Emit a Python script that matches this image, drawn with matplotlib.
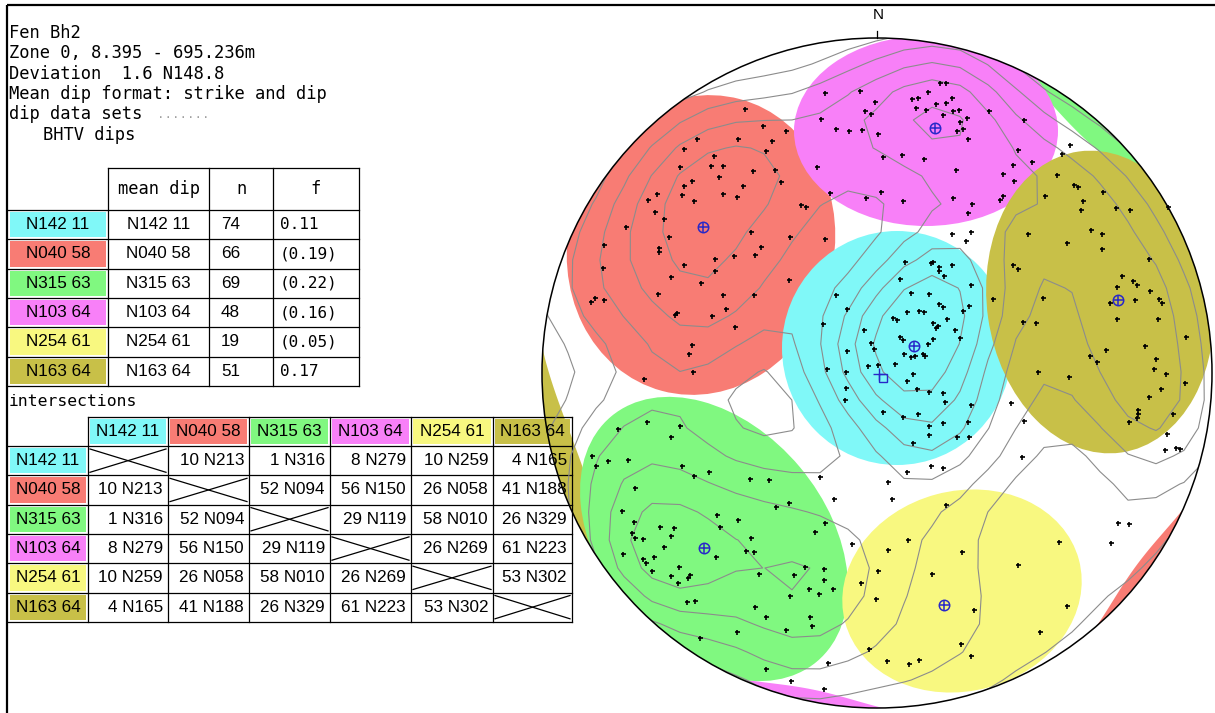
import numpy as np
import matplotlib
matplotlib.use("Agg")
import matplotlib.pyplot as plt
from matplotlib.patches import Circle, Ellipse, Polygon, Rectangle

# ---------------------------------------------------------------- data
title_lines = ["Fen Bh2", "Zone 0, 8.395 - 695.236m", "Deviation  1.6 N148.8",
               "Mean dip format: strike and dip", "dip data sets"]
dataset_name = "BHTV dips"

set_names = ["N142 11", "N040 58", "N315 63", "N103 64", "N254 61", "N163 64"]
set_colors = ["#80F8F8", "#F87C74", "#80F880", "#F880F8", "#F8F880", "#C8C048"]
set_n = [74, 66, 69, 48, 19, 51]
set_f = ["0.11", "(0.19)", "(0.22)", "(0.16)", "(0.05)", "0.17"]

# intersections of set pairs: plunge and trend
pair_a = [0, 0, 0, 0, 0, 1, 1, 1, 1, 2, 2, 2, 3, 3, 4]
pair_b = [1, 2, 3, 4, 5, 2, 3, 4, 5, 3, 4, 5, 4, 5, 5]
pair_plunge = [10, 1, 8, 10, 4, 52, 56, 26, 41, 29, 58, 26, 26, 61, 53]
pair_trend = [213, 316, 279, 259, 165, 94, 150, 58, 188, 119, 10, 329, 269, 223, 302]

# stereonet frame (plot units)
net_cx, net_cy, net_r = 877.0, 373.0, 335.0

# cluster regions: centre x, centre y, width, height, angle
clu_x = [897, 701, 714, 926, 962, 1100]
clu_y = [348, 245, 539, 131, 591, 302]
clu_w = [230, 266, 320, 264, 242, 226]
clu_h = [234, 302, 224, 190, 200, 304]
clu_ang = [0, 15, 50, 0, -15, -8]
# wrapped parts of the clusters at the primitive: set, start/end azimuth (deg), depth
wrap_set = [2, 1, 3, 5]
wrap_t0 = [30, -49, -114, 176]
wrap_t1 = [65, -24, -89, 222]
wrap_depth = [22, 12, 12, 26]

# mean poles and borehole axis
mean_x = [914, 703, 704, 935, 944, 1118]
mean_y = [346, 227, 548, 128, 605, 300]
axis_x, axis_y = [879], [374]

# poles of the dips (plot units)
red_pts = [(745, 109), (763, 126), (786, 131), (772, 141), (738, 139), (697, 139), (684, 149),
           (766, 151), (714, 156), (680, 167), (711, 166), (723, 166), (775, 170), (753, 171),
           (719, 177), (692, 181), (781, 182), (684, 186), (743, 186), (657, 194), (682, 195),
           (723, 194), (737, 197), (648, 200), (694, 201), (801, 205), (806, 207), (830, 193),
           (655, 212), (664, 219), (626, 227), (751, 232), (790, 237), (825, 239), (669, 237),
           (604, 245), (761, 247), (659, 248), (659, 252), (715, 259), (734, 256), (755, 255),
           (603, 268), (684, 265), (715, 271), (671, 277), (701, 283), (789, 280), (658, 294),
           (723, 295), (754, 295), (591, 302), (595, 298), (604, 300), (726, 309), (677, 313),
           (675, 315), (712, 316), (735, 327), (692, 345), (689, 354), (693, 372), (644, 379)]
magenta_pts = [(825, 93), (860, 91), (875, 102), (821, 119), (865, 111), (871, 114), (836, 129),
               (849, 131), (862, 130), (878, 134), (817, 167), (866, 198), (940, 83), (946, 83),
               (928, 92), (912, 99), (918, 98), (952, 98), (916, 108), (926, 110), (936, 104),
               (946, 103), (953, 111), (959, 110), (943, 115), (989, 111), (967, 118), (960, 122),
               (963, 129), (957, 131), (968, 139), (1024, 120), (1018, 150), (883, 157), (902, 155),
               (924, 159), (956, 170), (1032, 162), (1013, 165), (1003, 174), (1014, 181),
               (881, 192), (903, 201), (953, 198), (972, 204), (968, 213), (1003, 196), (1000, 200),
               (1070, 145), (1062, 154), (952, 234), (971, 232), (966, 241)]
olive_pts = [(1057, 175), (1074, 185), (1078, 187), (1103, 192), (1045, 196), (1083, 201),
             (1081, 210), (1116, 208), (1130, 210), (1091, 230), (1102, 234), (1028, 234),
             (1067, 243), (1102, 249), (1149, 259), (1168, 207), (1013, 265), (1018, 269),
             (1122, 276), (1133, 281), (1137, 285), (1117, 287), (1150, 291), (993, 299),
             (1043, 298), (1110, 303), (1135, 300), (1159, 299), (1162, 303), (1117, 319),
             (1158, 319), (1023, 322), (1036, 323), (1186, 337), (1145, 346), (1106, 350),
             (1090, 356), (1097, 362), (1156, 359), (1154, 369), (1166, 374), (1038, 372),
             (1069, 377), (1185, 383), (1161, 389), (1149, 397), (1138, 410), (1138, 414),
             (1137, 418), (1129, 422), (1173, 414), (1167, 434), (1165, 450), (1176, 448),
             (1180, 449)]
cyan_pts = [(836, 295), (847, 309), (823, 324), (864, 330), (871, 343), (874, 349), (847, 351),
            (827, 369), (846, 372), (868, 366), (846, 388), (845, 400), (905, 262), (931, 263),
            (933, 262), (939, 267), (939, 271), (952, 265), (944, 276), (900, 279), (971, 285),
            (911, 293), (929, 294), (939, 304), (943, 307), (969, 306), (963, 311), (919, 311),
            (924, 312), (907, 312), (893, 318), (897, 320), (947, 319), (933, 323), (938, 326),
            (936, 328), (955, 330), (900, 337), (903, 340), (960, 338), (933, 339), (928, 344),
            (904, 354), (911, 357), (915, 356), (923, 354), (925, 356), (895, 364), (878, 365),
            (913, 374), (907, 381), (917, 389), (929, 392), (943, 393), (945, 402), (971, 405),
            (883, 412), (903, 417), (918, 414), (943, 423), (929, 426), (929, 435), (957, 437),
            (969, 437), (968, 422), (913, 443)]
loose_pts = [(1011, 403), (1024, 421), (1022, 457), (931, 466), (943, 468), (907, 472),
             (888, 482), (892, 499), (834, 499), (852, 544), (820, 477), (828, 663), (824, 689),
             (791, 681), (1118, 523), (1129, 524), (1111, 543)]
green_pts = [(618, 429), (647, 422), (680, 426), (671, 437), (592, 456), (596, 466), (608, 461),
             (628, 460), (682, 466), (694, 476), (709, 472), (750, 479), (769, 480), (635, 488),
             (776, 507), (789, 503), (622, 511), (717, 515), (738, 520), (634, 522), (825, 523),
             (660, 527), (674, 528), (720, 527), (815, 532), (632, 533), (635, 538), (643, 539),
             (671, 536), (751, 538), (664, 547), (746, 551), (754, 552), (716, 557), (623, 554),
             (654, 557), (643, 559), (646, 563), (652, 571), (679, 567), (671, 576), (690, 575),
             (688, 578), (678, 583), (759, 574), (794, 575), (805, 567), (824, 569), (824, 580),
             (809, 589), (819, 594), (833, 589), (790, 596), (687, 602), (695, 601), (755, 607),
             (766, 617), (810, 617), (812, 626), (786, 630), (737, 632), (700, 638), (766, 669)]
yellow_pts = [(878, 571), (861, 583), (876, 599), (869, 649), (946, 505), (908, 540), (888, 550),
              (1059, 542), (962, 552), (1018, 565), (932, 574), (1067, 606), (974, 610),
              (1040, 632), (961, 644), (971, 656), (887, 661), (909, 664), (919, 660)]

# ---------------------------------------------------------------- figure
W, H = 1215, 713
fig = plt.figure(figsize=(W / 100, H / 100), dpi=100)
ax = fig.add_axes([0, 0, 1, 1])
ax.set_xlim(0, W)
ax.set_ylim(H, 0)
ax.axis("off")

MONO = ["DejaVu Sans Mono"]
SANS = ["Liberation Sans", "DejaVu Sans"]
LW = 0.9

# page frame
ax.plot([7, 7], [5, H], color="black", lw=1.6, solid_capstyle="butt")
ax.plot([7, W], [5, 5], color="black", lw=1.6, solid_capstyle="butt")

# header block
for i, line in enumerate(title_lines):
    ax.text(9, 33 + i * 20.3, line, family=MONO, fontsize=12.3, va="center", ha="left")
ax.text(157, 114, ".......", family=MONO, fontsize=9, color="#A0A0A0", va="center", ha="left")
ax.text(43, 135, dataset_name, family=MONO, fontsize=12.3, va="center", ha="left")

# ---- set summary table
c1 = [8, 108, 209, 273, 359]
h_top, h_bot, rh = 168, 210, 29.3
t1_bot = h_bot + 6 * rh
ax.plot([c1[1], c1[-1]], [h_top, h_top], color="black", lw=LW)
for x in c1[1:]:
    ax.plot([x, x], [h_top, t1_bot], color="black", lw=LW)
for i in range(7):
    y = h_bot + i * rh
    ax.plot([c1[0], c1[-1]], [y, y], color="black", lw=LW)
hy = (h_top + h_bot) / 2
ax.text((c1[1] + c1[2]) / 2, hy, "mean dip", family=MONO, fontsize=12.3, ha="center", va="center")
ax.text((c1[2] + c1[3]) / 2, hy, "n", family=MONO, fontsize=12.3, ha="center", va="center")
ax.text((c1[3] + c1[4]) / 2, hy, "f", family=MONO, fontsize=12.3, ha="center", va="center")
for i, name in enumerate(set_names):
    top = h_bot + i * rh
    cy = top + rh / 2
    ax.add_patch(Rectangle((10, top + 2), c1[1] - 12, rh - 4, facecolor=set_colors[i],
                           edgecolor="none"))
    ax.text((10 + c1[1] - 2) / 2, cy, name, family=SANS, fontsize=12.3, ha="center", va="center")
    ax.text((c1[1] + c1[2]) / 2, cy, name, family=SANS, fontsize=12.3, ha="center", va="center")
    ax.text(c1[2] + 12, cy, str(set_n[i]), family=SANS, fontsize=12.3, ha="left", va="center")
    ax.text(c1[3] + 7, cy, set_f[i], family=MONO, fontsize=11.5, ha="left", va="center")

# ---- intersection table
ax.text(9, 402, "intersections", family=MONO, fontsize=11.8, ha="left", va="center")
c2 = [8, 88, 168, 249, 330, 411, 493, 572]
i_top, i_bot = 417, 446
t2_bot = i_bot + 6 * rh
ax.plot([c2[1], c2[-1]], [i_top, i_top], color="black", lw=LW)
for x in c2[1:]:
    ax.plot([x, x], [i_top, t2_bot], color="black", lw=LW)
for i in range(7):
    y = i_bot + i * rh
    ax.plot([c2[0], c2[-1]], [y, y], color="black", lw=LW)

cells = [["" for _ in set_names] for _ in set_names]
for a, b, p, t in zip(pair_a, pair_b, pair_plunge, pair_trend):
    cells[a][b] = cells[b][a] = f"{p} N{t:03d}"

for j, name in enumerate(set_names):
    x0, x1 = c2[j + 1], c2[j + 2]
    ax.add_patch(Rectangle((x0 + 2, i_top + 2), x1 - x0 - 4, i_bot - i_top - 4,
                           facecolor=set_colors[j], edgecolor="none"))
    ax.text((x0 + x1) / 2, (i_top + i_bot) / 2, name, family=SANS, fontsize=12.3,
            ha="center", va="center")
for i, name in enumerate(set_names):
    top = i_bot + i * rh
    cy = top + rh / 2
    ax.add_patch(Rectangle((10, top + 2), c2[1] - 12, rh - 4, facecolor=set_colors[i],
                           edgecolor="none"))
    ax.text((10 + c2[1] - 2) / 2, cy, name, family=SANS, fontsize=12.3, ha="center", va="center")
    for j in range(len(set_names)):
        x0, x1 = c2[j + 1], c2[j + 2]
        if i == j:
            ax.plot([x0 + 2, x1 - 2], [top + rh - 3, top + 3], color="black", lw=LW)
            ax.plot([x0 + 2, x1 - 2], [top + 3, top + rh - 3], color="black", lw=LW)
        else:
            ax.text(x1 - 5, cy, cells[i][j], family=SANS, fontsize=12.3, ha="right", va="center")

# ---------------------------------------------------------------- stereonet
clip = Circle((net_cx, net_cy), net_r, transform=ax.transData)

# wrapped cluster parts along the primitive
for s, t0, t1, d in zip(wrap_set, wrap_t0, wrap_t1, wrap_depth):
    tt = np.linspace(0, 1, 60)
    th = np.radians(t0 + (t1 - t0) * tt)
    outer = np.column_stack([net_cx + net_r * np.cos(th), net_cy - net_r * np.sin(th)])
    rr = net_r - d * np.sin(np.pi * tt)
    inner = np.column_stack([net_cx + rr * np.cos(th), net_cy - rr * np.sin(th)])[::-1]
    poly = Polygon(np.vstack([outer, inner]), closed=True, facecolor=set_colors[s],
                   edgecolor="none", zorder=1)
    ax.add_patch(poly)
    poly.set_clip_path(clip)

for k in [1, 0, 2, 4, 3, 5]:
    e = Ellipse((clu_x[k], clu_y[k]), clu_w[k], clu_h[k], angle=clu_ang[k],
                facecolor=set_colors[k], edgecolor="none", zorder=1)
    ax.add_patch(e)
    e.set_clip_path(clip)

all_pts = np.array(red_pts + magenta_pts + olive_pts + cyan_pts + loose_pts + green_pts
                   + yellow_pts, dtype=float)

# pole density contours on a coarse grid
gx = np.arange(net_cx - net_r - 30, net_cx + net_r + 31, 28.0)
gy = np.arange(net_cy - net_r - 30, net_cy + net_r + 31, 28.0)
GX, GY = np.meshgrid(gx, gy)
sig = 44.0
dens = np.zeros_like(GX)
for px, py in all_pts:
    dens += np.exp(-((GX - px) ** 2 + (GY - py) ** 2) / (2 * sig ** 2))
levels = dens.max() * np.array([0.07, 0.15, 0.25, 0.37, 0.5, 0.64, 0.8])
cs = ax.contour(GX, GY, dens, levels=levels, colors="#8C8C8C", linewidths=0.8, zorder=2)
cs.set_clip_path(clip)

ax.add_patch(Circle((net_cx, net_cy), net_r, fill=False, edgecolor="black", lw=1.1, zorder=4))
ax.plot([net_cx, net_cx], [net_cy - net_r - 7, net_cy - net_r], color="black", lw=0.9, zorder=4)
ax.text(net_cx + 1, 15, "N", family=SANS, fontsize=11, ha="center", va="center")

ax.plot(all_pts[:, 0], all_pts[:, 1], linestyle="none", marker="+", ms=3.6, mew=1.2,
        color="black", zorder=5)

blue = "#2828C8"
ax.plot(mean_x, mean_y, linestyle="none", marker="o", ms=7.5, mfc="none", mec=blue, mew=1.1,
        zorder=6)
ax.plot(mean_x, mean_y, linestyle="none", marker="+", ms=7.5, mec=blue, mew=1.1, zorder=6)
ax.plot(axis_x, axis_y, linestyle="none", marker="+", ms=9, mec=blue, mew=1.0, zorder=6)
ax.plot([a + 4 for a in axis_x], [b + 4 for b in axis_y], linestyle="none", marker="s", ms=6,
        mfc="none", mec=blue, mew=1.0, zorder=6)

fig.savefig("out.png", dpi=100)
